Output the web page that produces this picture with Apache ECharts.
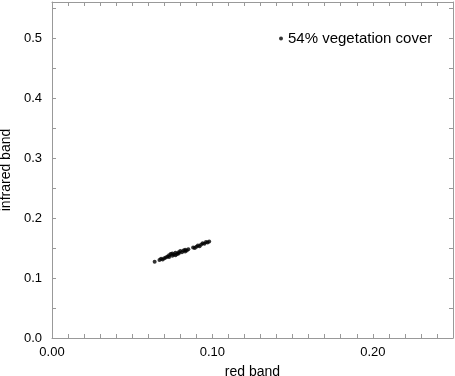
<!DOCTYPE html>
<html>
<head>
<meta charset="utf-8">
<script src="https://cdn.jsdelivr.net/npm/echarts@6/dist/echarts.min.js"></script>
<style>
  html, body { margin: 0; padding: 0; background: #fff; }
  #chart { width: 455px; height: 376px; }
</style>
</head>
<body>
<div id="chart"></div>
<script>
// red band reflectance vs infrared band reflectance
const redBand = [
  0.064, 0.067, 0.068, 0.069, 0.070, 0.071, 0.072, 0.073, 0.073, 0.074,
  0.075, 0.075, 0.076, 0.077, 0.077, 0.078, 0.079, 0.079, 0.080, 0.081,
  0.082, 0.083, 0.083, 0.084, 0.085, 0.088, 0.089, 0.090, 0.091, 0.092,
  0.093, 0.094, 0.095, 0.096, 0.097, 0.098
];
const infraredBand = [
  0.127, 0.130, 0.132, 0.131, 0.133, 0.134, 0.136, 0.138, 0.135, 0.140,
  0.137, 0.141, 0.139, 0.138, 0.142, 0.140, 0.143, 0.141, 0.145, 0.143,
  0.146, 0.144, 0.147, 0.146, 0.148, 0.151, 0.150, 0.152, 0.154, 0.153,
  0.156, 0.158, 0.157, 0.160, 0.159, 0.161
];
const seriesName = '54% vegetation cover';

const points = redBand.map((x, i) => [x, infraredBand[i]]);

const font = 'Liberation Sans, Arial, sans-serif';
const axisGray = '#999';

const isMultiple = (v, step) => Math.abs(v / step - Math.round(v / step)) < 1e-6;

const baseAxis = {
    type: 'value',
    axisLine: { show: true, onZero: false, lineStyle: { color: axisGray, width: 1 } },
    axisTick: { show: true, inside: true, length: 4, lineStyle: { color: axisGray } },
    splitLine: { show: false }
};

const option = {
    animation: false,
    backgroundColor: '#fff',
    grid: { left: 52, right: 2, top: 2, bottom: 38, outerBoundsMode: 'none', containLabel: false },
    legend: {
        left: 274,
        top: 26,
        icon: 'circle',
        itemWidth: 4,
        itemHeight: 4,
        itemGap: 0,
        textStyle: { fontFamily: font, fontSize: 15, color: '#000' },
        data: [seriesName]
    },
    xAxis: [
        Object.assign({}, baseAxis, {
            position: 'bottom',
            min: 0, max: 0.25, interval: 0.01,
            name: 'red band',
            nameLocation: 'middle',
            nameGap: 27,
            nameTextStyle: { fontFamily: font, fontSize: 14, color: '#000' },
            axisLabel: {
                margin: 8, fontFamily: font, fontSize: 13, color: '#000',
                formatter: v => isMultiple(v, 0.1) ? v.toFixed(2) : ''
            }
        }),
        Object.assign({}, baseAxis, {
            position: 'top',
            min: 0, max: 0.25, interval: 0.01,
            axisLabel: { show: false }
        })
    ],
    yAxis: [
        Object.assign({}, baseAxis, {
            position: 'left',
            min: 0, max: 0.56, interval: 0.05,
            name: 'infrared band',
            nameLocation: 'middle',
            nameGap: 38,
            nameTextStyle: { fontFamily: font, fontSize: 14, color: '#000' },
            axisLabel: {
                margin: 10, fontFamily: font, fontSize: 13, color: '#000',
                showMaxLabel: false,
                formatter: v => isMultiple(v, 0.1) ? v.toFixed(1) : ''
            }
        }),
        Object.assign({}, baseAxis, {
            position: 'right',
            min: 0, max: 0.56, interval: 0.05,
            axisLabel: { show: false }
        })
    ],
    series: [{
        name: seriesName,
        type: 'scatter',
        xAxisIndex: 0,
        yAxisIndex: 0,
        symbol: 'circle',
        symbolSize: 4,
        itemStyle: { color: '#000' },
        data: points
    }]
};

const myChart = echarts.init(document.getElementById('chart'));
myChart.setOption(option);
</script>
</body>
</html>
